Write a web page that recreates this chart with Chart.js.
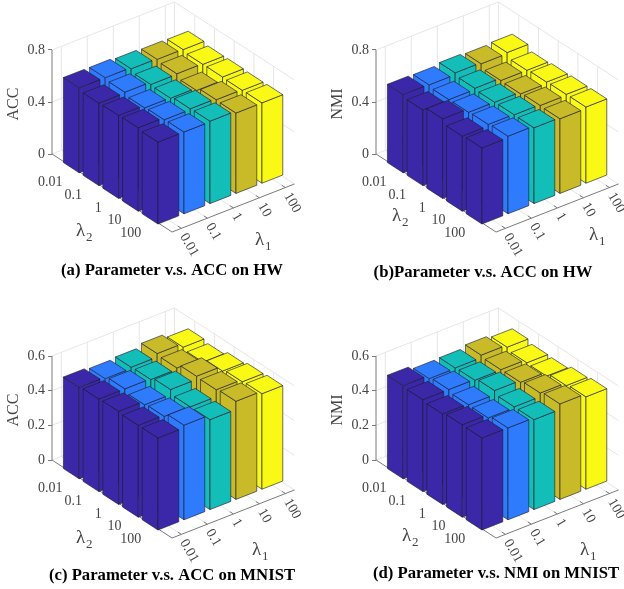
<!DOCTYPE html>
<html>
<head>
<meta charset="utf-8">
<script src="https://cdn.jsdelivr.net/npm/chart.js@4"></script>
<style>
html, body { margin: 0; background: #fff; }
#page { position: relative; width: 624px; height: 589px; overflow: hidden; background: #fff; }
canvas { position: absolute; }
</style>
</head>
<body>
<div id="page"></div>
<script>
var lambda1Ticks = ["0.01", "0.1", "1", "10", "100"];
var lambda2Ticks = ["0.01", "0.1", "1", "10", "100"];
var barColors = ["#3b28a8", "#2f7bfd", "#13bdb8", "#c9bb28", "#f9f915"];
var hwTicks = [0, 0.4, 0.8];
var mnistTicks = [0, 0.2, 0.4, 0.6];

// one inner list per lambda1 column, read along lambda2
var hwAcc = [
    [0.654, 0.634, 0.638, 0.642, 0.630],
    [0.653, 0.640, 0.618, 0.625, 0.629],
    [0.643, 0.621, 0.614, 0.631, 0.634],
    [0.637, 0.625, 0.595, 0.622, 0.618],
    [0.634, 0.619, 0.620, 0.616, 0.618]
];
var hwNmi = [
    [0.602, 0.582, 0.612, 0.577, 0.585],
    [0.598, 0.583, 0.584, 0.589, 0.597],
    [0.612, 0.592, 0.583, 0.585, 0.583],
    [0.603, 0.573, 0.569, 0.578, 0.574],
    [0.611, 0.573, 0.581, 0.585, 0.586]
];
var mnistAcc = [
    [0.528, 0.534, 0.537, 0.530, 0.531],
    [0.519, 0.534, 0.516, 0.523, 0.546],
    [0.526, 0.529, 0.545, 0.519, 0.519],
    [0.546, 0.537, 0.563, 0.559, 0.566],
    [0.524, 0.512, 0.534, 0.546, 0.551]
];
var mnistNmi = [
    [0.538, 0.530, 0.522, 0.533, 0.531],
    [0.519, 0.530, 0.516, 0.514, 0.530],
    [0.522, 0.525, 0.539, 0.519, 0.519],
    [0.537, 0.527, 0.528, 0.540, 0.551],
    [0.524, 0.508, 0.505, 0.524, 0.533]
];

// floor projection, pixels from the foot of the z axis
var unitU = [19.7, 12.8];   // one lambda2 step
var unitV = [26, -10.2];    // one lambda1 step
var origin = [29.7, 9.6];   // centre of first bar
var uMin = -1.035, uMax = 5.06, vMin = -0.358, vMax = 4.35;
var barHalf = 0.4;
var axisLeft = 52, zeroY = 154, chartBottom = 208;
var serif = "'Liberation Serif', serif";

function floorX(u, v) { return origin[0] + u * unitU[0] + v * unitV[0]; }
function floorY(u, v) { return origin[1] + u * unitU[1] + v * unitV[1]; }

var bars3d = {
    id: "bars3d",
    afterDatasetsDraw: function (chart) {
        var ctx = chart.ctx, o = chart.options.plugins.bars3d;
        var xs = chart.scales.x, ys = chart.scales.y;
        var pt = function (u, v, z) {
            return [xs.getPixelForValue(floorX(u, v)), ys.getPixelForValue(z) + floorY(u, v)];
        };
        var line = function (a, b) {
            ctx.beginPath();
            ctx.moveTo(a[0], a[1]);
            ctx.lineTo(b[0], b[1]);
            ctx.stroke();
        };
        var zTop = o.ticks[o.ticks.length - 1];

        ctx.save();
        // walls and floor grid
        ctx.strokeStyle = "#e6e6e6";
        ctx.lineWidth = 1;
        o.ticks.forEach(function (z) {
            line(pt(uMin, vMin, z), pt(uMin, vMax, z));
            line(pt(uMin, vMax, z), pt(uMax, vMax, z));
        });
        for (var i = 0; i < 5; i++) {
            line(pt(uMin, i, 0), pt(uMin, i, zTop));
            line(pt(i, vMax, 0), pt(i, vMax, zTop));
            line(pt(uMin, i, 0), pt(uMax, i, 0));
            line(pt(i, vMin, 0), pt(i, vMax, 0));
        }
        line(pt(uMin, vMax, 0), pt(uMin, vMax, zTop));

        // axis lines
        ctx.strokeStyle = "#7a7a7a";
        line(pt(uMin, vMin, 0), pt(uMin, vMin, zTop));
        line(pt(uMin, vMin, 0), pt(uMax, vMin, 0));
        line(pt(uMax, vMin, 0), pt(uMax, vMax, 0));
        for (i = 0; i < 5; i++) {
            line(pt(i, vMin, 0), pt(i, vMin + 0.14, 0));
            line(pt(uMax, i, 0), pt(uMax - 0.18, i, 0));
        }

        // bars, back to front
        ctx.lineWidth = 0.9;
        ctx.lineJoin = "round";
        ctx.strokeStyle = "rgba(28,28,50,0.7)";
        for (var v = 4; v >= 0; v--) {
            var ds = chart.data.datasets[v];
            ctx.fillStyle = ds.backgroundColor;
            for (var u = 0; u < 5; u++) {
                var h = ds.data[u].y, a = u - barHalf, b = u + barHalf, c = v - barHalf, d = v + barHalf;
                var faces = [
                    [pt(a, c, 0), pt(b, c, 0), pt(b, c, h), pt(a, c, h)],
                    [pt(b, c, 0), pt(b, d, 0), pt(b, d, h), pt(b, c, h)],
                    [pt(a, c, h), pt(b, c, h), pt(b, d, h), pt(a, d, h)]
                ];
                faces.forEach(function (f) {
                    ctx.beginPath();
                    ctx.moveTo(f[0][0], f[0][1]);
                    for (var k = 1; k < 4; k++) ctx.lineTo(f[k][0], f[k][1]);
                    ctx.closePath();
                    ctx.fill();
                    ctx.stroke();
                });
            }
        }

        // tick labels on the floor axes
        ctx.fillStyle = "#444";
        ctx.font = "14px " + serif;
        ctx.textBaseline = "middle";
        ctx.textAlign = "right";
        lambda2Ticks.forEach(function (t, k) {
            var p = pt(k, vMin, 0);
            ctx.fillText(t, p[0] - 10, p[1] + 15);
        });
        ctx.textAlign = "left";
        lambda1Ticks.forEach(function (t, k) {
            var p = pt(uMax, k, 0);
            ctx.save();
            ctx.translate(p[0] + 1.5, p[1] + 6);
            ctx.rotate(60 * Math.PI / 180);
            ctx.fillText(t, 0, 0);
            ctx.restore();
        });

        // lambda names
        var lambda = function (pos, sub) {
            ctx.textAlign = "left";
            ctx.font = "19px " + serif;
            ctx.fillText("\u03bb", pos[0] - 7, pos[1] - 2);
            ctx.font = "13px " + serif;
            ctx.fillText(sub, pos[0] + 3, pos[1] + 5);
        };
        lambda(o.lambda2Pos, "2");
        lambda(o.lambda1Pos, "1");
        ctx.restore();
    }
};

function makePanel(p) {
    var page = document.getElementById("page");
    var canvas = document.createElement("canvas");
    canvas.width = p.width;
    canvas.height = p.height;
    canvas.style.left = p.left + "px";
    canvas.style.top = p.top + "px";
    page.appendChild(canvas);

    var titleSize = 16.7;
    var pxPerUnit = 104 / p.ticks[p.ticks.length - 1];
    var datasets = p.values.map(function (col, v) {
        return {
            label: lambda1Ticks[v],
            backgroundColor: barColors[v],
            pointRadius: 0,
            data: col.map(function (h, u) { return { x: floorX(u, v), y: h }; })
        };
    });

    new Chart(canvas, {
        type: "scatter",
        data: { datasets: datasets },
        plugins: [bars3d],
        options: {
            responsive: false,
            animation: false,
            events: [],
            layout: { autoPadding: false, padding: 0 },
            plugins: {
                legend: { display: false },
                tooltip: { enabled: false },
                title: {
                    display: true,
                    position: "bottom",
                    text: p.title,
                    color: "#000",
                    font: { family: serif, size: titleSize, weight: "bold", lineHeight: 1.2 },
                    padding: { top: p.height - chartBottom - titleSize * 1.2 - 2, bottom: 2 }
                },
                bars3d: { ticks: p.ticks, lambda1Pos: p.lambda1Pos, lambda2Pos: p.lambda2Pos }
            },
            scales: {
                x: { type: "linear", display: false, min: 0, max: p.width - axisLeft },
                y: {
                    type: "linear",
                    min: -(chartBottom - zeroY) / pxPerUnit,
                    max: zeroY / pxPerUnit,
                    afterFit: function (scale) {
                        scale.width = axisLeft;
                        scale.paddingTop = 0;
                        scale.paddingBottom = 0;
                    },
                    afterBuildTicks: function (scale) {
                        scale.ticks = p.ticks.map(function (t) { return { value: t }; });
                    },
                    border: { display: false },
                    grid: { drawOnChartArea: false, drawTicks: true, tickLength: 4, color: "#7a7a7a" },
                    ticks: {
                        padding: 3,
                        color: "#444",
                        font: { family: serif, size: 14 },
                        autoSkip: false,
                        maxRotation: 0,
                        callback: function (value) { return String(value); }
                    },
                    title: {
                        display: true,
                        text: p.zName,
                        color: "#444",
                        font: { family: serif, size: 16, lineHeight: 1.2 },
                        padding: { top: 4, bottom: 0 }
                    }
                }
            }
        }
    });
}

makePanel({ title: "(a) Parameter v.s. ACC on HW", zName: "ACC", values: hwAcc, ticks: hwTicks,
    left: 0, top: 0, width: 344, height: 283, lambda2Pos: [83, 233], lambda1Pos: [262, 242] });
makePanel({ title: "(b)Parameter v.s. ACC on HW", zName: "NMI", values: hwNmi, ticks: hwTicks,
    left: 324, top: 0, width: 318, height: 285, lambda2Pos: [75, 218], lambda1Pos: [272, 237] });
makePanel({ title: "(c) Parameter v.s. ACC on MNIST", zName: "ACC", values: mnistAcc, ticks: mnistTicks,
    left: 0, top: 306, width: 344, height: 282, lambda2Pos: [83, 234], lambda1Pos: [259, 246] });
makePanel({ title: "(d) Parameter v.s. NMI on MNIST", zName: "NMI", values: mnistNmi, ticks: mnistTicks,
    left: 324, top: 306, width: 344, height: 280, lambda2Pos: [85, 232], lambda1Pos: [263, 246] });
</script>
</body>
</html>
